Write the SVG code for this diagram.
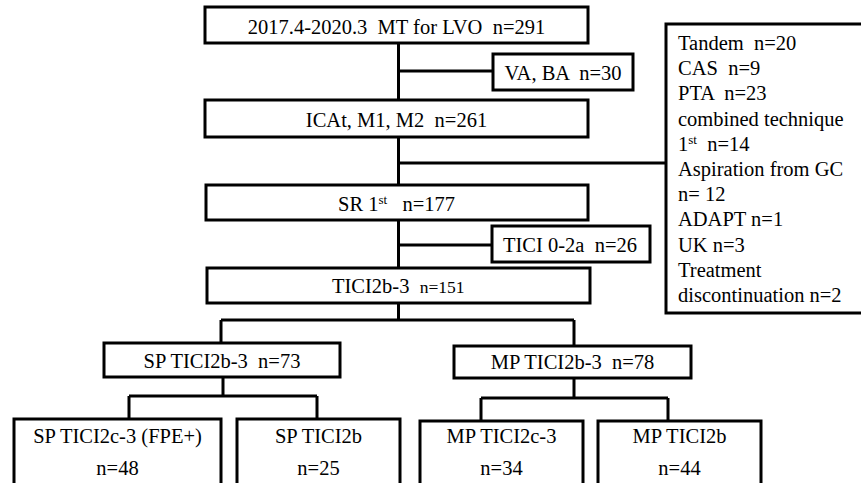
<svg xmlns="http://www.w3.org/2000/svg" width="861" height="483" viewBox="0 0 861 483">
<style>
.b{fill:#fff;stroke:#000;stroke-width:3}
.c{fill:none;stroke:#000;stroke-width:3}
text{font-size:20.5px;fill:#000;white-space:pre}
.m{text-anchor:middle}
.sup{font-size:13px}
</style>
<rect width="861" height="483" fill="#fff"/>
<g font-family="'Liberation Serif', 'Times New Roman', 'DejaVu Serif', serif">
<g id="connectors">
<path class="c" d="M398.5 43V100M398.5 71H493"/>
<path class="c" d="M398.5 137V185M398.5 163H666"/>
<path class="c" d="M398.5 220V268M398.5 245H492"/>
<path class="c" d="M398.5 303V320M221 320H574M221 320V343M574 320V346"/>
<path class="c" d="M223 377V396M129 396H317M129 396V419M317 396V419"/>
<path class="c" d="M574 378V398M481 398H668M481 398V421M668 398V421"/>
</g>
<g id="n_total"><rect class="b" x="205" y="7" width="383" height="36"/><text class="m" x="396.5" y="34">2017.4-2020.3  MT for LVO  n=291</text></g>
<g id="n_vaba"><rect class="b" x="493" y="54" width="140" height="36"/><text class="m" x="563" y="80">VA, BA  n=30</text></g>
<g id="n_icat"><rect class="b" x="205" y="100" width="383" height="37"/><text class="m" x="396.5" y="126.5">ICAt, M1, M2  n=261</text></g>
<g id="n_excl"><rect class="b" x="666" y="24" width="204" height="289"/>
<text x="678" y="50">Tandem  n=20</text>
<text x="678" y="75.2">CAS  n=9</text>
<text x="678" y="100.4">PTA  n=23</text>
<text x="678" y="125.6">combined technique</text>
<text x="678" y="150.8">1<tspan class="sup" dy="-7">st</tspan><tspan dy="7">  n=14</tspan></text>
<text x="678" y="176">Aspiration from GC</text>
<text x="678" y="201.2">n= 12</text>
<text x="678" y="226.4">ADAPT n=1</text>
<text x="678" y="251.6">UK n=3</text>
<text x="678" y="276.8">Treatment</text>
<text x="678" y="302">discontinuation n=2</text>
</g>
<g id="n_sr"><rect class="b" x="206" y="185" width="382" height="35"/><text x="338" y="210.5">SR 1<tspan class="sup" dy="-7">st</tspan><tspan dy="7">   n=177</tspan></text></g>
<g id="n_tici02a"><rect class="b" x="492" y="226" width="158" height="36"/><text class="m" x="570" y="251.5">TICI 0-2a  n=26</text></g>
<g id="n_tici2b3"><rect class="b" x="207" y="268" width="383" height="35"/><text x="332" y="292.5">TICI2b-3  <tspan font-size="17.5">n=151</tspan></text></g>
<g id="n_sp"><rect class="b" x="104" y="343" width="236" height="34"/><text class="m" x="222" y="367.5">SP TICI2b-3  n=73</text></g>
<g id="n_mp"><rect class="b" x="454" y="346" width="237" height="32"/><text class="m" x="572.5" y="369">MP TICI2b-3  n=78</text></g>
<g id="n_sp2c3"><rect class="b" x="14" y="419" width="207" height="72"/><text class="m" x="117.5" y="443">SP TICI2c-3 (FPE+)</text><text class="m" x="117.5" y="474.5">n=48</text></g>
<g id="n_sp2b"><rect class="b" x="237" y="419" width="163" height="72"/><text class="m" x="318.5" y="443">SP TICI2b</text><text class="m" x="318.5" y="474.5">n=25</text></g>
<g id="n_mp2c3"><rect class="b" x="420" y="421" width="163" height="70"/><text class="m" x="501.5" y="443">MP TICI2c-3</text><text class="m" x="501.5" y="474.5">n=34</text></g>
<g id="n_mp2b"><rect class="b" x="598" y="421" width="163" height="70"/><text class="m" x="679.5" y="443">MP TICI2b</text><text class="m" x="679.5" y="474.5">n=44</text></g>
</g>
</svg>
